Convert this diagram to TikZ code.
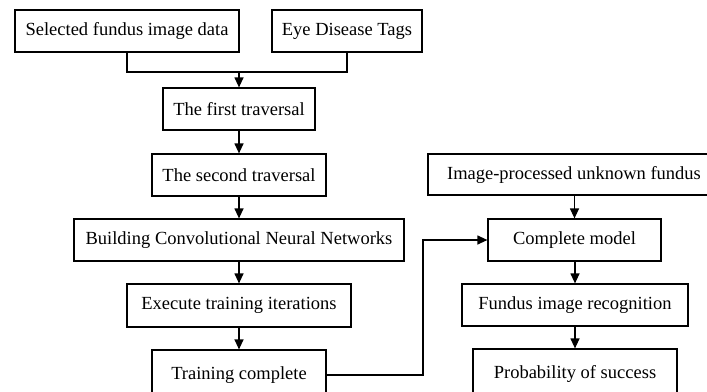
\documentclass[tikz,border=0pt]{standalone}
\usepackage{fontspec}
\setmainfont{Liberation Serif}
\usetikzlibrary{arrows.meta}
\begin{document}
\begin{tikzpicture}[x=1pt,y=-1pt,
  box/.style={draw, line width=1.2pt, rectangle, inner sep=0pt, font=\fontsize{18.5}{22}\selectfont},
  arrow/.style={line width=1.2pt, -{Triangle[length=10pt,width=9pt]}},
  line/.style={line width=1.2pt}]
\useasboundingbox (0,0) rectangle (707,391);
\clip (0,0) rectangle (707,391);
\fill[white] (0,0) rectangle (707,391);
\node[box, minimum width=224pt, minimum height=42pt] (sel) at (127,31) {Selected fundus image data};
\node[box, minimum width=150pt, minimum height=42pt] (eye) at (347,31) {Eye Disease Tags};
\node[box, minimum width=152pt, minimum height=42pt] (first) at (239,109) {The first traversal};
\node[box, minimum width=174pt, minimum height=42pt] (second) at (239,175) {The second traversal};
\node[box, minimum width=330pt, minimum height=42pt] (cnn) at (239,240) {Building Convolutional Neural Networks};
\node[box, minimum width=224pt, minimum height=43pt] (exec) at (239,305.5) {Execute training iterations};
\node[box, minimum width=174pt, minimum height=50pt] (train) at (239,375) {Training complete};
\node[box, minimum width=292pt, minimum height=41pt] (img) at (574,174.5) {Image-processed unknown fundus};
\node[box, minimum width=173pt, minimum height=42pt] (model) at (574.5,240) {Complete model};
\node[box, minimum width=226pt, minimum height=42pt] (fund) at (575,305) {Fundus image recognition};
\node[box, minimum width=204pt, minimum height=50pt] (prob) at (575,374) {Probability of success};
\coordinate (j) at (239,72);
\coordinate (k) at (423,0);
\draw[line] (sel.south) |- (j);
\draw[line] (eye.south) |- (j);
\draw[arrow] (j) -- (first.north);
\draw[arrow] (first) -- (second);
\draw[arrow] (second) -- (cnn);
\draw[arrow] (cnn) -- (exec);
\draw[arrow] (exec) -- (train);
\draw[arrow] (train.east) -- (train.east -| k) |- (model.west);
\draw[arrow] (img.south -| model.north) -- (model.north);
\draw[arrow] (model.south) -- (model.south -| fund.north) -- (fund.north);
\draw[arrow] (fund.south) -- (fund.south -| prob.north) -- (prob.north);
\end{tikzpicture}
\end{document}
